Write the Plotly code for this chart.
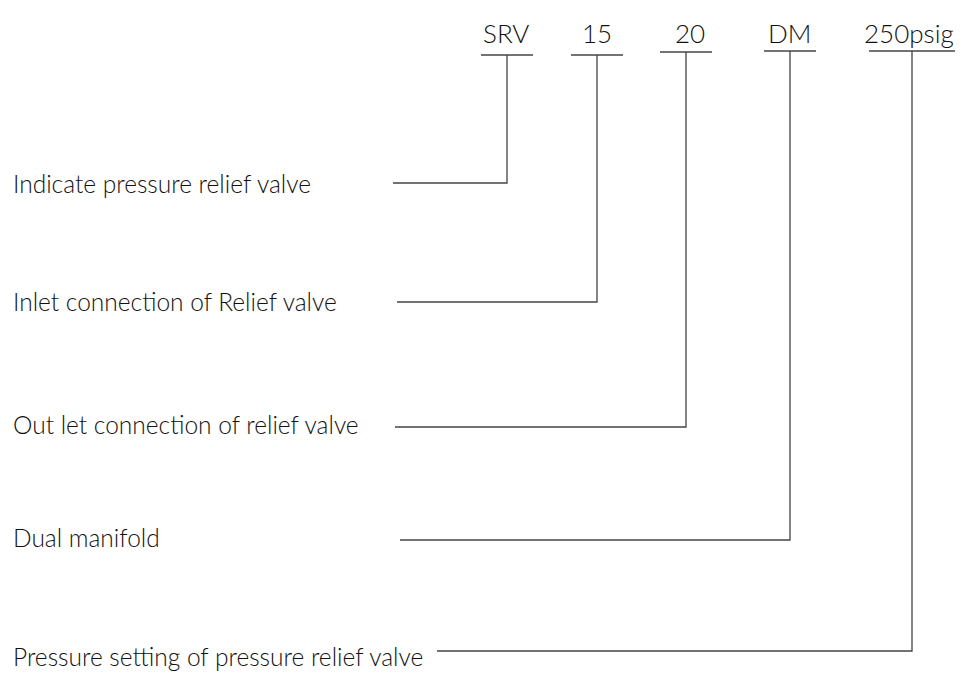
import plotly.graph_objects as go

# Code segments (top row) and their descriptions (left column)
codes = ["SRV", "15", "20", "DM", "250psig"]
descriptions = [
    "Indicate pressure relief valve",
    "Inlet connection of Relief valve",
    "Out let connection of relief valve",
    "Dual manifold",
    "Pressure setting of pressure relief valve",
]

# Layout positions (pixel canvas, y downward)
code_x = [507, 597, 686, 790, 912]          # connector column of each code
code_text_x = [506, 597, 690, 789, 909]      # code label centers
code_text_y = 33
bar_half = [26, 26, 26, 26, 43]             # half-width of short bar under code
bar_y = [55, 55, 52, 51, 51]
desc_text_y = [183, 301, 424, 537, 656]
line_y = [183, 302, 427, 540, 651]
line_start_x = [393, 397, 395, 400, 437]

W, H = 966, 673
LINE = dict(color="#444444", width=1.3)
FONT = "Lato, 'Open Sans', sans-serif"

fig = go.Figure()

for i in range(len(codes)):
    cx = code_x[i]
    fig.add_trace(go.Scatter(x=[cx - bar_half[i], cx + bar_half[i]], y=[bar_y[i], bar_y[i]],
                             mode="lines", line=LINE, hoverinfo="skip", showlegend=False))
    fig.add_trace(go.Scatter(x=[cx, cx, line_start_x[i]], y=[bar_y[i], line_y[i], line_y[i]],
                             mode="lines", line=LINE, hoverinfo="skip", showlegend=False))
    fig.add_annotation(x=code_text_x[i], y=code_text_y, text=codes[i], showarrow=False,
                       xanchor="center", yanchor="middle", borderpad=0,
                       font=dict(family=FONT, size=26, color="#111", weight=300))
    fig.add_annotation(x=12, y=desc_text_y[i], text=descriptions[i], showarrow=False,
                       xanchor="left", yanchor="middle", borderpad=0,
                       font=dict(family=FONT, size=24.5, color="#111", weight=300))

fig.update_xaxes(range=[0, W], visible=False, fixedrange=True)
fig.update_yaxes(range=[H, 0], visible=False, fixedrange=True)
fig.update_layout(width=W, height=H, autosize=False,
                  margin=dict(l=0, r=0, t=0, b=0),
                  paper_bgcolor="white", plot_bgcolor="white")

fig.write_html("out.html", config={"displayModeBar": False},
               post_script="document.body.style.margin='0';document.body.style.overflow='hidden';")
